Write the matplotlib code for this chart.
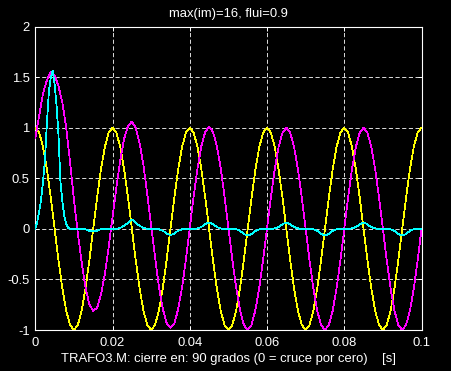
import matplotlib
matplotlib.use('Agg')
import matplotlib.pyplot as plt
import numpy as np

# ---------------- data ----------------
title_text = 'max(im)=16, flui=0.9'
xlabel_text = 'TRAFO3.M: cierre en: 90 grados (0 = cruce por cero)    [s]'
xtick_vals = [0, 0.02, 0.04, 0.06, 0.08, 0.1]
xtick_labels = ['0', '0.02', '0.04', '0.06', '0.08', '0.1']
ytick_vals = [-1, -0.5, 0, 0.5, 1, 1.5, 2]
ytick_labels = ['-1', '-0.5', '0', '0.5', '1', '1.5', '2']

# time grid, 1 ms steps (voltage, flux) and 0.5 ms steps (current)
t_ms = np.linspace(0, 0.1, 101)
t_half = np.linspace(0, 0.1, 201)

# voltage (yellow)
voltage = [
    1.000, 0.951, 0.809, 0.588, 0.309, 0.000, -0.309, -0.588, -0.809, -0.951,
    -1.000, -0.951, -0.809, -0.588, -0.309, 0.000, 0.309, 0.588, 0.809, 0.951,
    1.000, 0.951, 0.809, 0.588, 0.309, 0.000, -0.309, -0.588, -0.809, -0.951,
    -1.000, -0.951, -0.809, -0.588, -0.309, 0.000, 0.309, 0.588, 0.809, 0.951,
    1.000, 0.951, 0.809, 0.588, 0.309, 0.000, -0.309, -0.588, -0.809, -0.951,
    -1.000, -0.951, -0.809, -0.588, -0.309, 0.000, 0.309, 0.588, 0.809, 0.951,
    1.000, 0.951, 0.809, 0.588, 0.309, 0.000, -0.309, -0.588, -0.809, -0.951,
    -1.000, -0.951, -0.809, -0.588, -0.309, 0.000, 0.309, 0.588, 0.809, 0.951,
    1.000, 0.951, 0.809, 0.588, 0.309, 0.000, -0.309, -0.588, -0.809, -0.951,
    -1.000, -0.951, -0.809, -0.588, -0.309, 0.000, 0.309, 0.588, 0.809, 0.951,
    1.000,
]

# flux (magenta)
flux = [
    0.90, 1.12, 1.34, 1.47, 1.55, 1.52, 1.41, 1.25, 1.00, 0.66,
    0.29, -0.04, -0.33, -0.58, -0.75, -0.81, -0.78, -0.65, -0.45, -0.18,
    0.12, 0.41, 0.68, 0.89, 1.02, 1.06, 1.00, 0.85, 0.63, 0.34,
    0.03, -0.28, -0.57, -0.79, -0.93, -0.98, -0.94, -0.79, -0.58, -0.30,
    0.01, 0.32, 0.60, 0.82, 0.96, 1.01, 0.96, 0.82, 0.60, 0.32,
    0.01, -0.30, -0.58, -0.80, -0.95, -1.00, -0.95, -0.80, -0.58, -0.30,
    0.01, 0.31, 0.59, 0.81, 0.95, 1.00, 0.95, 0.81, 0.59, 0.31,
    0.00, -0.31, -0.59, -0.81, -0.95, -1.00, -0.95, -0.81, -0.59, -0.31,
    0.00, 0.31, 0.59, 0.81, 0.95, 1.00, 0.95, 0.81, 0.59, 0.31,
    0.00, -0.31, -0.59, -0.81, -0.95, -1.00, -0.95, -0.81, -0.59, -0.31,
    0.00,
]

# magnetizing current (cyan)
current = [
    0.0, 0.07, 0.17, 0.29, 0.47, 0.68, 1.05, 1.35, 1.50, 1.56,
    1.43, 1.22, 0.93, 0.47, 0.27, 0.13, 0.05, 0.01, 0.0, 0.0,
    0.0, 0.0, 0.0, 0.0, 0.0, 0.0, -0.005, -0.01, -0.02, -0.02,
    -0.02, -0.02, -0.02, -0.01, -0.005, 0.0, 0.0, 0.0, 0.0, 0.0,
    0.0, 0.0, 0.0, 0.005, 0.01, 0.02, 0.03, 0.045, 0.06, 0.08,
    0.09, 0.08, 0.065, 0.045, 0.03, 0.02, 0.01, 0.005, 0.0, 0.0,
    0.0, 0.0, 0.0, 0.0, -0.005, -0.01, -0.02, -0.03, -0.045, -0.055,
    -0.06, -0.055, -0.045, -0.03, -0.02, -0.01, -0.005, 0.0, 0.0, 0.0,
    0.0, 0.0, 0.0, 0.0, 0.005, 0.01, 0.02, 0.03, 0.045, 0.055,
    0.06, 0.055, 0.045, 0.03, 0.02, 0.01, 0.005, 0.0, 0.0, 0.0,
    0.0, 0.0, 0.0, 0.0, -0.005, -0.01, -0.02, -0.035, -0.05, -0.06,
    -0.065, -0.06, -0.05, -0.035, -0.02, -0.01, -0.005, 0.0, 0.0, 0.0,
    0.0, 0.0, 0.0, 0.0, 0.005, 0.01, 0.02, 0.03, 0.045, 0.055,
    0.06, 0.055, 0.045, 0.03, 0.02, 0.01, 0.005, 0.0, 0.0, 0.0,
    0.0, 0.0, 0.0, 0.0, -0.005, -0.01, -0.02, -0.035, -0.05, -0.06,
    -0.06, -0.06, -0.05, -0.035, -0.02, -0.01, -0.005, 0.0, 0.0, 0.0,
    0.0, 0.0, 0.0, 0.0, 0.005, 0.01, 0.02, 0.03, 0.045, 0.055,
    0.055, 0.055, 0.045, 0.03, 0.02, 0.01, 0.005, 0.0, 0.0, 0.0,
    0.0, 0.0, 0.0, 0.0, -0.005, -0.01, -0.02, -0.035, -0.05, -0.06,
    -0.06, -0.06, -0.05, -0.035, -0.02, -0.01, -0.005, 0.0, 0.0, 0.0,
    0.0,
]

# ---------------- figure ----------------
plt.rcParams['font.family'] = ['Liberation Sans', 'DejaVu Sans']
plt.rcParams['lines.scale_dashes'] = False

fig = plt.figure(figsize=(4.51, 3.71), dpi=100, facecolor='black')
ax = fig.add_axes([0.0783, 0.1105, 0.8563, 0.818])
ax.set_facecolor('black')

lw = 0.55
ax.plot(t_ms, voltage, color='#ffff00', lw=lw, antialiased=False, zorder=3)
ax.plot(t_ms, flux, color='#ff00ff', lw=lw, antialiased=False, zorder=4)
ax.plot(t_half, current, color='#00ffff', lw=lw, antialiased=False, zorder=5)

ax.set_xlim(0, 0.1)
ax.set_ylim(-1, 2)
ax.set_xticks(xtick_vals)
ax.set_xticklabels(xtick_labels)
ax.set_yticks(ytick_vals)
ax.set_yticklabels(ytick_labels)

ax.grid(True, color='white', linestyle=(0, (3.0, 1.8)), lw=0.6, zorder=1)
ax.set_axisbelow(True)
for s in ax.spines.values():
    s.set_color('white')
    s.set_linewidth(0.8)

ax.tick_params(axis='both', direction='in', length=3, width=0.7,
               colors='white', labelsize=9.4, top=True, right=True)
ax.tick_params(axis='x', pad=5)
ax.tick_params(axis='y', pad=4)

ax.set_title(title_text, color='white', fontsize=9.4, pad=7)
ax.set_xlabel(xlabel_text, color='white', fontsize=9.4, labelpad=3)

fig.savefig('out.png', dpi=100, facecolor='black')
